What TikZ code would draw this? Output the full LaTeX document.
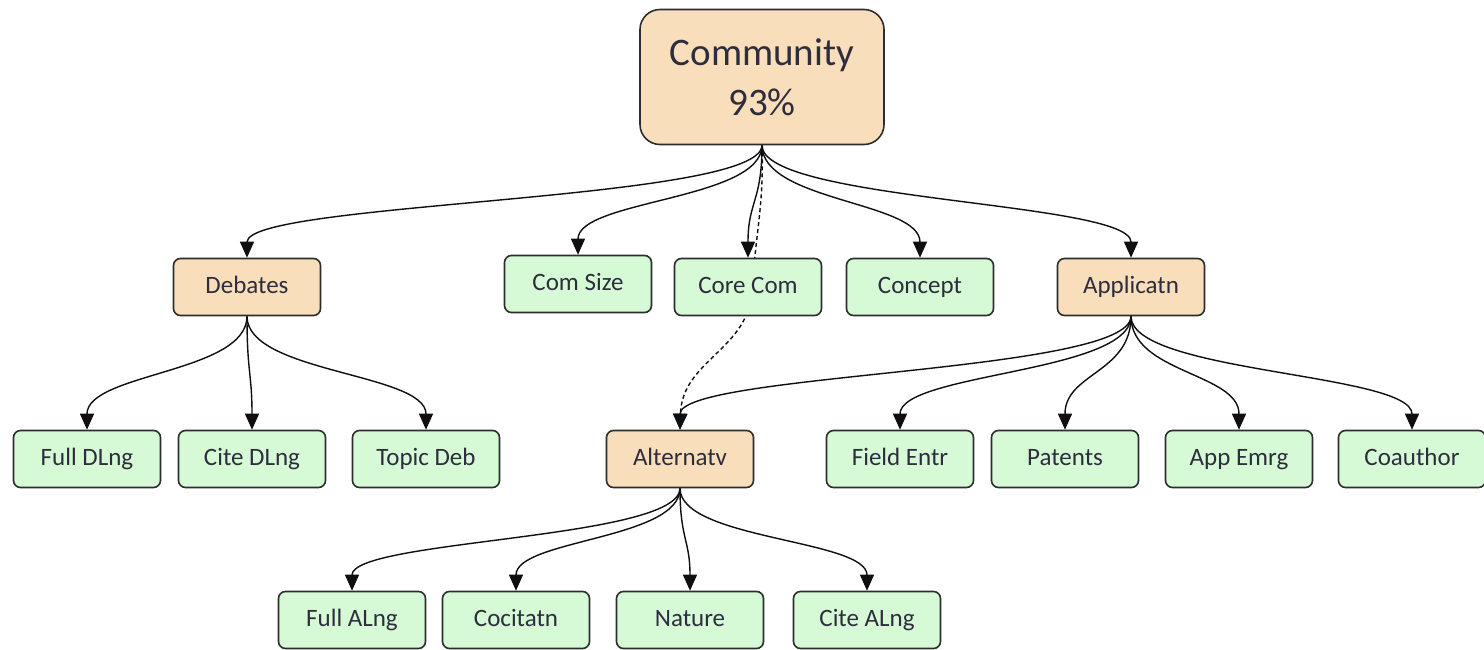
\documentclass[tikz,border=0pt]{standalone}
\usepackage{fontspec}
\setmainfont{Carlito}
\usetikzlibrary{arrows.meta,backgrounds,calc}
\definecolor{peach}{RGB}{248,222,186}
\definecolor{mint}{RGB}{213,250,213}
\definecolor{boxline}{RGB}{45,45,45}
\definecolor{txt}{RGB}{45,45,62}
\definecolor{linkcol}{RGB}{15,15,15}
\begin{document}
\begin{tikzpicture}[x=1pt,y=-1pt,
  box/.style={draw=boxline,line width=1.6pt,rounded corners=7pt,minimum width=147pt,minimum height=57pt,
    font=\fontsize{25}{30}\selectfont,text=txt,inner sep=0pt,text height=17pt,text depth=5pt},
  leaf/.style={box,fill=mint},
  hub/.style={box,fill=peach},
  link/.style={draw=linkcol,line width=1.4pt,-{Triangle[length=16pt,width=14pt]}},
  vh/.style={to path={let \p1=(\tikztostart),\p2=(\tikztotarget) in
     .. controls (\x1,{0.5*(\y1+\y2)}) and (\x2,{0.5*(\y1+\y2)}) .. (\tikztotarget) \tikztonodes}}]
\useasboundingbox (0,0) rectangle (1484,650);

\node[hub,minimum width=244pt,minimum height=135pt,rounded corners=20pt,text height=,text depth=,
  font=\fontsize{39}{50}\selectfont,align=center] (comm) at (762,77) {Community\\93\%};

\node[hub]  (deb)     at (247,287) {Debates};
\node[leaf] (comsize) at (578,284) {Com Size};
\node[leaf] (core)    at (748,287) {Core Com};
\node[leaf] (concept) at (920,287) {Concept};
\node[hub]  (app)     at (1131,287) {Applicatn};

\node[leaf] (fulld)   at (87,459) {Full DLng};
\node[leaf] (cited)   at (252,459) {Cite DLng};
\node[leaf] (topic)   at (426,459) {Topic Deb};
\node[hub]  (alt)     at (680,459) {Alternatv};
\node[leaf] (field)   at (900,459) {Field Entr};
\node[leaf] (patents) at (1065,459) {Patents};
\node[leaf] (appem)   at (1239,459) {App Emrg};
\node[leaf] (coauth)  at (1412,459) {Coauthor};

\node[leaf] (fulla)   at (352,620) {Full ALng};
\node[leaf] (cocit)   at (516,620) {Cocitatn};
\node[leaf] (nature)  at (690,620) {Nature};
\node[leaf] (citea)   at (867,620) {Cite ALng};

\coordinate (via) at (752,290);

\begin{pgfonlayer}{background}
\fill[white] (0,0) rectangle (1484,650);
\foreach \c in {deb,comsize,core,concept,app}
  \draw[link] (comm.south) to[vh] (\c.north);
\foreach \c in {fulld,cited,topic}
  \draw[link] (deb.south) to[vh] (\c.north);
\foreach \c in {alt,field,patents,appem,coauth}
  \draw[link] (app.south) to[vh] (\c.north);
\foreach \c in {fulla,cocit,nature,citea}
  \draw[link] (alt.south) to[vh] (\c.north);
\draw[link,dash pattern=on 4pt off 3pt] (comm.south) .. controls (764,205) and (756,230) .. (via)
   .. controls (749,350) and (682,360) .. (alt.north);
\end{pgfonlayer}
\end{tikzpicture}
\end{document}
